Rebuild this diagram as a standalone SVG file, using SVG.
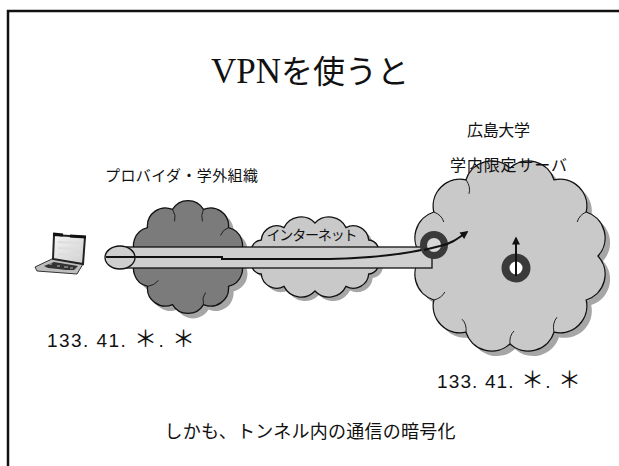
<svg xmlns="http://www.w3.org/2000/svg" xmlns:xlink="http://www.w3.org/1999/xlink" width="619" height="466" viewBox="0 0 619 466">
  <style>
    .jp { font-family: "Noto Sans CJK JP", "Noto Sans", sans-serif; fill: #111; }
    .num { font-family: "Liberation Sans", "Noto Sans CJK JP", sans-serif; fill: #111; }
    .star { font-size: 23px; }
    .shadow { fill: #a6a6a6; stroke: none; }
    .cloud-dark { fill: #7b7b7b; stroke: #111; stroke-width: 1.3; }
    .cloud-light { fill: #c9c9c9; stroke: #111; stroke-width: 1.3; }
    .detail { fill: none; stroke: #222; stroke-width: 1; }
    .ring { stroke: #3a3a3a; }
    .line { fill: none; stroke: #111; stroke-width: 2; }
  </style>
  <defs>
    <marker id="head" viewBox="0 0 10 10" refX="8" refY="5" markerWidth="9" markerHeight="8" markerUnits="userSpaceOnUse" orient="auto">
      <path d="M0,0 L10,5 L0,10 z" fill="#111"/>
    </marker>
    <path id="cloudProvider" d="M238,257 A18,18 0 0 1 228.5,286.4 A18,18 0 0 1 203.5,304.6 A18,18 0 0 1 172.5,304.6 A18,18 0 0 1 147.5,286.4 A18,18 0 0 1 138,257 A18,18 0 0 1 147.5,227.6 A18,18 0 0 1 172.5,209.4 A18,18 0 0 1 203.5,209.4 A18,18 0 0 1 228.5,227.6 A18,18 0 0 1 238,257 Z"/>
    <path id="cloudNet" d="M377,257 A11,11 0 0 1 368.7,274 A15.5,15.5 0 0 1 346,286.4 A19,19 0 0 1 315,291 A19,19 0 0 1 284,286.4 A15.5,15.5 0 0 1 261.3,274 A11,11 0 0 1 253,257 A11,11 0 0 1 261.3,240 A15.5,15.5 0 0 1 284,227.6 A19,19 0 0 1 315,223 A19,19 0 0 1 346,227.6 A15.5,15.5 0 0 1 368.7,240 A11,11 0 0 1 377,257 Z"/>
    <path id="cloudCampus" d="M598,256 A27,27 0 0 1 586.2,300 A27,27 0 0 1 554,332.2 A27,27 0 0 1 510,344 A27,27 0 0 1 466,332.2 A27,27 0 0 1 433.8,300 A27,27 0 0 1 422,256 A27,27 0 0 1 433.8,212 A27,27 0 0 1 466,179.8 A27,27 0 0 1 510,168 A27,27 0 0 1 554,179.8 A27,27 0 0 1 586.2,212 A27,27 0 0 1 598,256 Z"/>
    <linearGradient id="screen" x1="0" y1="0" x2="1" y2="1">
      <stop offset="0" stop-color="#f4f4f4"/>
      <stop offset="1" stop-color="#cfcfcf"/>
    </linearGradient>
  </defs>

  <rect width="619" height="466" fill="#fff"/>
  <!-- slide frame -->
  <rect x="8" y="11" width="630" height="480" fill="none" stroke="#111" stroke-width="2.5"/>

  <!-- title -->
  <text x="211" y="83" font-size="32"><tspan font-family="'Liberation Serif', serif" fill="#111" font-size="35">VPN</tspan><tspan class="jp">を使うと</tspan></text>

  <!-- internet cloud -->
  <g id="internet">
    <use xlink:href="#cloudNet" href="#cloudNet" class="shadow" x="4" y="4"/>
    <use xlink:href="#cloudNet" href="#cloudNet" class="cloud-light"/>
    <text class="jp" x="312" y="240" font-size="14" text-anchor="middle" textLength="91">インターネット</text>
  </g>

  <!-- provider / outside network cloud -->
  <g id="provider">
    <use xlink:href="#cloudProvider" href="#cloudProvider" class="shadow" x="5" y="5"/>
    <use xlink:href="#cloudProvider" href="#cloudProvider" class="cloud-dark"/>
    <path class="detail" d="M172.5,209.4 q4,6 2,12 M203.5,209.4 q-3,6 -1,12 M147.5,286.4 q7,-1 11,-6 M203.5,304.6 q-2,-7 2,-12 M228.5,227.6 q-6,2 -8,8"/>
    <text class="jp" x="181.5" y="181" font-size="15" text-anchor="middle" textLength="153">プロバイダ・学外組織</text>
  </g>

  <!-- campus network cloud -->
  <g id="campus">
    <use xlink:href="#cloudCampus" href="#cloudCampus" class="shadow" x="5" y="5"/>
    <use xlink:href="#cloudCampus" href="#cloudCampus" class="cloud-light"/>
    <path class="detail" d="M466,179.8 q5,7 3,14 M433.8,212 q8,3 10,10 M586.2,212 q-7,3 -9,10 M554,332.2 q-2,-9 3,-15 M510,344 q-1,-8 4,-13 M466,332.2 q1,-8 -4,-13 M433.8,300 q8,-2 11,-8"/>
    <text class="jp" x="498.5" y="136" font-size="16" text-anchor="middle" textLength="63">広島大学</text>
    <text class="jp" x="508.5" y="171" font-size="16" text-anchor="middle" textLength="117">学内限定サーバ</text>
  </g>

  <!-- client laptop -->
  <g id="laptop">
    <path d="M35,267 L54,258 L83,264 L77,274 L37,271 Z" fill="#bdbdbd" stroke="#333" stroke-width="1"/>
    <path d="M44,266 L54,262 L60,263 L66,264 L72,265 L78,266 L74,270 L66,270 L58,269 L48,268 Z" fill="#333"/>
    <path d="M49,264 h3 M57,266 h3 M64,267 h4 M70,268 h3" stroke="#bbb" stroke-width="1"/>
    <path d="M54,235 L85,237 L83,264 L53,259 Z" fill="url(#screen)" stroke="#222" stroke-width="2"/>
    <path d="M58,242 L80,243 M58,248 L80,249 M58,254 L80,255" stroke="#ddd" stroke-width="2"/>
    <path d="M53,234 L63,235 M70,236 L86,237" stroke="#111" stroke-width="3"/>
  </g>

  <!-- VPN tunnel and traffic -->
  <g id="connectors">
    <rect x="118" y="247" width="314" height="21" fill="#cfcfcf" stroke="#111" stroke-width="1.3"/>
    <ellipse cx="120" cy="257.5" rx="15" ry="11.5" fill="#cfcfcf" stroke="#111" stroke-width="1.3"/>
    <path class="line" d="M106,257 L222,257 L222,259 L330,259 C370,258 400,255 426,249"/>
    <circle class="ring" cx="434" cy="245" r="10.5" fill="#d8d8d8" stroke-width="7"/>
    <path class="line" d="M424,250 L440,246" />
    <path class="line" d="M440,246 C450,244 456,240 467,232" marker-end="url(#head)"/>
  </g>

  <!-- campus server -->
  <g id="server">
    <circle class="ring" cx="516" cy="268" r="10.5" fill="#fff" stroke-width="8"/>
    <path class="line" d="M516,276 L516,238" marker-end="url(#head)"/>
  </g>

  <!-- address labels -->
  <text class="num" x="47" y="347" font-size="19" textLength="148" lengthAdjust="spacing">133. 41. <tspan class="star">＊</tspan>. <tspan class="star">＊</tspan></text>
  <text class="num" x="437" y="388" font-size="19" textLength="144" lengthAdjust="spacing">133. 41. <tspan class="star">＊</tspan>. <tspan class="star">＊</tspan></text>

  <!-- caption -->
  <text class="jp" x="310" y="438" font-size="18" text-anchor="middle" textLength="291">しかも、トンネル内の通信の暗号化</text>
</svg>
